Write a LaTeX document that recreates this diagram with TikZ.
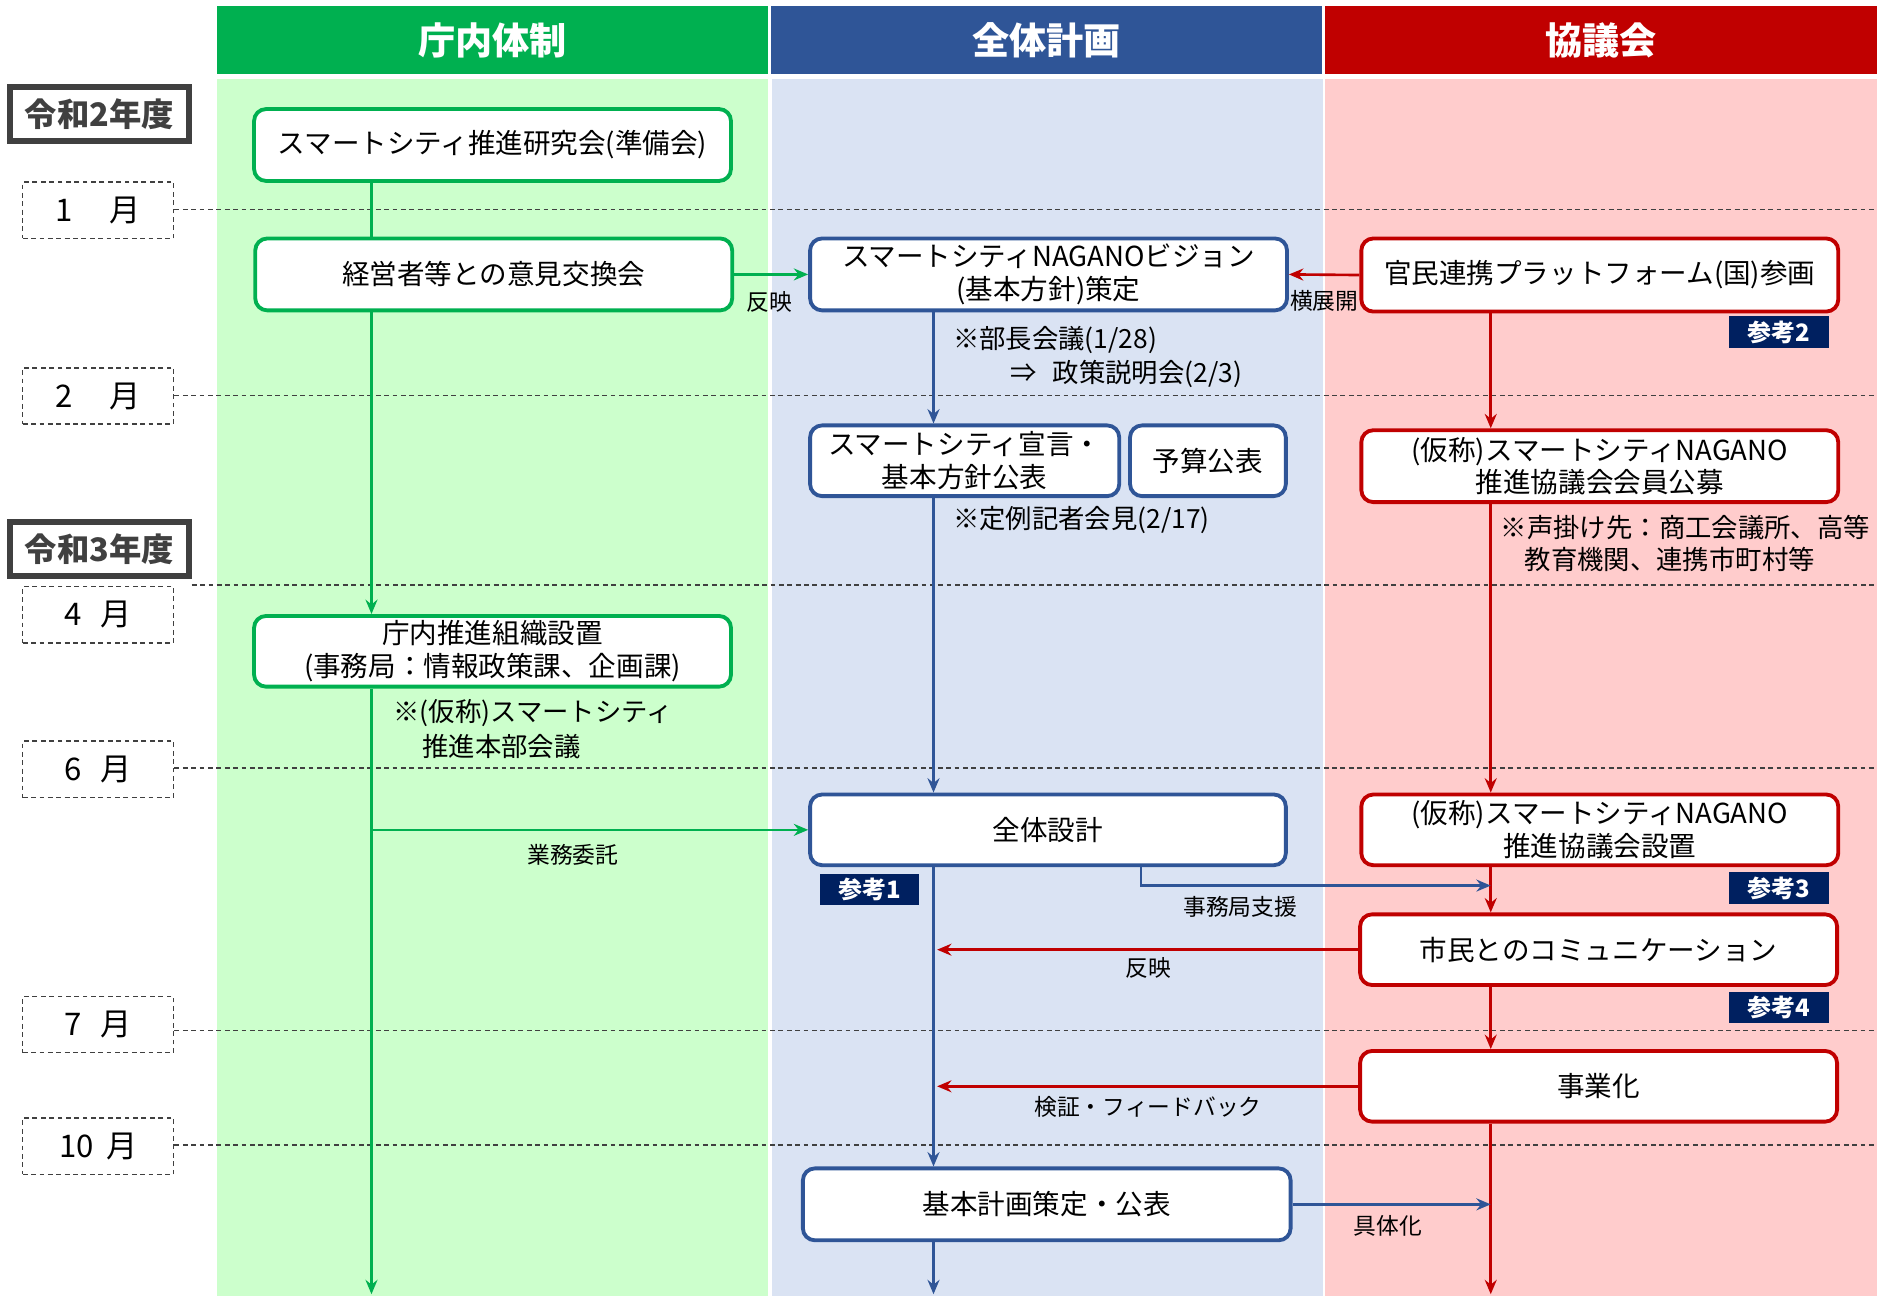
\documentclass[tikz,border=0pt]{standalone}
\usepackage{fontspec}
\setmainfont{Noto Sans CJK JP}
\usetikzlibrary{arrows.meta}
\definecolor{gC}{HTML}{00B050}
\definecolor{bC}{HTML}{2F5597}
\definecolor{rC}{HTML}{C00000}
\definecolor{gL}{HTML}{CCFFCC}
\definecolor{bL}{HTML}{DAE3F3}
\definecolor{rL}{HTML}{FFCCCC}
\definecolor{dg}{HTML}{404040}
\definecolor{navy}{HTML}{002060}
\begin{document}
\begin{tikzpicture}[x=0.5pt,y=-0.5pt,
  sz/.style 2 args={minimum width=#1*0.5pt, minimum height=#2*0.5pt},
  box/.style={draw, rounded corners=5pt, line width=1.6pt, fill=white, align=center, inner sep=0pt, font=\fontsize{11.5}{13.75}\selectfont},
  gbox/.style={box, draw=gC}, bbox/.style={box, draw=bC}, rbox/.style={box, draw=rC},
  hdr/.style={fill=#1, text=white, font=\fontsize{15.5}{18}\selectfont\bfseries, inner sep=0pt, sz={460}{57}},
  mon/.style={draw=dg, dash pattern=on 2pt off 1.5pt, line width=0.6pt, sz={126}{47}, font=\fontsize{13}{15}\selectfont, inner sep=0pt},
  yr/.style={draw=dg, line width=2.5pt, sz={149}{45}, font=\fontsize{13.5}{15}\selectfont\bfseries, text=dg, inner sep=0pt},
  badge/.style={fill=navy, text=white, font=\fontsize{10}{12}\selectfont\bfseries, sz={83}{26}, inner sep=0pt},
  lbl/.style={font=\fontsize{9.5}{11}\selectfont, inner sep=0pt},
  note/.style={font=\fontsize{11}{14}\selectfont, inner sep=0pt, anchor=west, align=left},
  mline/.style={draw=dg, line width=0.6pt, dash pattern=on 2pt off 1.5pt},
  tip/.style={-{Stealth[length=6pt,width=5pt,inset=2pt]}},
  gl/.style={draw=gC, line width=1.1pt}, bl/.style={draw=bC, line width=1.1pt}, rl/.style={draw=rC, line width=1.1pt},
  garr/.style={gl, tip}, barr/.style={bl, tip}, rarr/.style={rl, tip}
]
\useasboundingbox (0,0) rectangle (1568,1081.5);
% backgrounds
\fill[gL] (181,66) rectangle (641,1081.5);
\fill[bL] (644,66) rectangle (1104,1081.5);
\fill[rL] (1106,66) rectangle (1566,1081.5);
\node[hdr=gC] (h1) at (411,33.5) {庁内体制};
\node[hdr=bC] (h2) at (873.5,33.5) {全体計画};
\node[hdr=rC] (h3) at (1336,33.5) {協議会};
% left labels
\node[yr] (y2) at (83,95) {令和2年度};
\node[yr] (y3) at (83,458) {令和3年度};
\node[mon] (m1) at (82,175.5) {1\hspace{1.2em}月};
\node[mon] (m2) at (82,330.5) {2\hspace{1.2em}月};
\node[mon] (m4) at (82,513) {4\hspace{0.6em}月};
\node[mon] (m6) at (82,642) {6\hspace{0.6em}月};
\node[mon] (m7) at (82,855) {7\hspace{0.6em}月};
\node[mon] (m10) at (82,956.5) {10\hspace{0.4em}月};
\coordinate (e1) at (1566,175);
\coordinate (e2) at (1566,330);
\coordinate (e4) at (1566,488);
\coordinate (e6) at (1566,641);
\coordinate (e7) at (1566,860);
\coordinate (e10) at (1566,955.5);
\draw[mline] (m1.east |- e1) -- (e1);
\draw[mline] (m2.east |- e2) -- (e2);
\draw[mline] (y3.south east |- e4) -- (e4);
\draw[mline] (m6.east |- e6) -- (e6);
\draw[mline] (m7.east |- e7) -- (e7);
\draw[mline] (m10.east |- e10) -- (e10);
% guide coordinates
\coordinate (gx) at (310,0);
\coordinate (bx) at (779,0);
\coordinate (rx) at (1244,0);
\coordinate (sx) at (952,0);
\coordinate (sy) at (0,739);
\coordinate (bot) at (0,1080);
% nodes
\node[gbox, sz={398}{60}] (A) at (411,121) {スマートシティ推進研究会(準備会)};
\node[gbox, sz={398}{60}] (B) at (412,229) {経営者等との意見交換会};
\node[bbox, sz={398}{60}] (C) at (875,229) {スマートシティNAGANOビジョン\\(基本方針)策定};
\node[rbox, sz={398}{61}] (D) at (1335,229.5) {官民連携プラットフォーム(国)参画};
\node[bbox, sz={258}{59}] (E) at (805,384.5) {スマートシティ宣言・\\基本方針公表};
\node[bbox, sz={130}{59}] (F) at (1008,384.5) {予算公表};
\node[rbox, sz={398}{60}] (G) at (1335,389) {(仮称)スマートシティNAGANO\\推進協議会会員公募};
\node[gbox, sz={398}{59}] (H) at (411,543.5) {庁内推進組織設置\\(事務局：情報政策課、企画課)};
\node[bbox, sz={397}{59}] (I) at (874.5,692.5) {全体設計};
\node[rbox, sz={398}{59}] (J) at (1335,692.5) {(仮称)スマートシティNAGANO\\推進協議会設置};
\node[rbox, sz={398}{59}] (K) at (1334,792.5) {市民とのコミュニケーション};
\node[rbox, sz={398}{59}] (L) at (1334,906.5) {事業化};
\node[bbox, sz={407}{60}] (M) at (873.5,1005) {基本計画策定・公表};
% badges
\node[badge] (r1) at (725.5,742) {参考1};
\node[badge] (r2) at (1484.5,277) {参考2};
\node[badge] (r3) at (1484.5,741) {参考3};
\node[badge] (r4) at (1484.5,841) {参考4};
% notes
\node[note] (n1) at (795,284) {※部長会議(1/28)};
\node[note] (n2) at (843,312) {⇒\hspace{0.6em}政策説明会(2/3)};
\node[note] (n3) at (795,434) {※定例記者会見(2/17)};
\node[note] (n4) at (1252,440) {※声掛け先：商工会議所、高等};
\node[note] (n5) at (1272,467) {教育機関、連携市町村等};
\node[note] (n6) at (328,595) {※(仮称)スマートシティ};
\node[note] (n7) at (352,623) {推進本部会議};
% vertical flows
\draw[gl] (A.south -| gx) -- (B.north -| gx);
\draw[garr] (B.south -| gx) -- (H.north -| gx);
\draw[garr] (H.south -| gx) -- (gx |- bot);
\draw[barr] (C.south -| bx) -- (E.north -| bx);
\draw[barr] (E.south -| bx) -- (I.north -| bx);
\draw[barr] (I.south -| bx) -- (M.north -| bx);
\draw[barr] (M.south -| bx) -- (bx |- bot);
\draw[rarr] (D.south -| rx) -- (G.north -| rx);
\draw[rarr] (G.south -| rx) -- (J.north -| rx);
\draw[rarr] (J.south -| rx) -- (K.north -| rx);
\draw[rarr] (K.south -| rx) -- (L.north -| rx);
\draw[rarr] (L.south -| rx) -- (rx |- bot);
% horizontal flows
\draw[garr] (B.east) -- (C.west);
\draw[rarr] (D.west) -- (C.east);
\draw[garr] (gx |- I.west) -- (I.west);
\draw[barr] (I.south -| sx) |- (rx |- sy);
\draw[rarr, shorten >=1.5pt] (K.west) -- (K.west -| bx);
\draw[rarr, shorten >=1.5pt] (L.west) -- (L.west -| bx);
\draw[barr] (M.east) -- (M.east -| rx);
% labels
\node[lbl] (l1) at (642,252) {反映};
\node[lbl] (l2) at (1105,251) {横展開};
\node[lbl] (l3) at (478,713) {業務委託};
\node[lbl] (l4) at (1035,757) {事務局支援};
\node[lbl] (l5) at (958,808) {反映};
\node[lbl] (l6) at (958,924) {検証・フィードバック};
\node[lbl] (l7) at (1158,1023) {具体化};
\end{tikzpicture}
\end{document}
